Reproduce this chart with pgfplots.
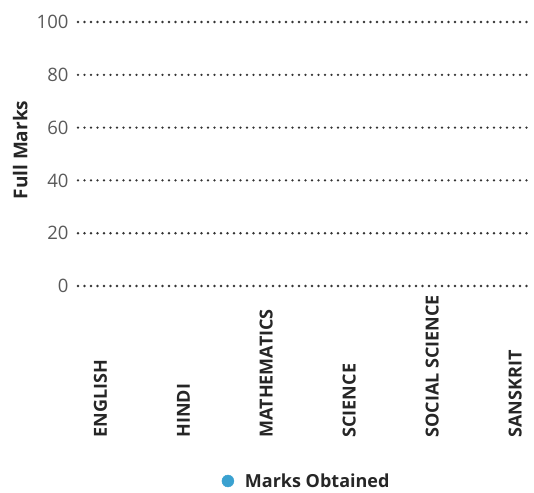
\documentclass[border=0pt]{standalone}
\usepackage{pgfplots}
\pgfplotsset{compat=1.18}
\usepackage{fontspec}
\setmainfont{Open Sans}
\definecolor{tickgray}{HTML}{595959}
\definecolor{labeldark}{HTML}{262626}
\definecolor{gridgray}{HTML}{333333}
\definecolor{markblue}{HTML}{3AA1D0}
\begin{document}
\begin{tikzpicture}
\begin{axis}[
    name=ax,
    scale only axis,
    width=452pt, height=264pt,
    xmin=-0.27, xmax=5.18,
    ymin=0, ymax=100,
    ytick={0,20,...,100},
    xtick={0,1,2,3,4,5},
    xticklabels={ENGLISH,HINDI,MATHEMATICS,SCIENCE,SOCIAL SCIENCE,SANSKRIT},
    axis line style={draw=none},
    major tick length=0pt,
    ymajorgrids,
    grid style={gridgray, line width=2.6pt, dash pattern=on 0pt off 6.5pt, line cap=round},
    /pgf/number format/assume math mode=true,
    yticklabel style={font=\fontsize{18.5}{20}\selectfont, text=tickgray, xshift=-6pt},
    xticklabel style={font=\bfseries\fontsize{18}{20}\selectfont, text=labeldark, rotate=90, anchor=west},
    xticklabel shift=155pt,
    ylabel={Full Marks},
    ylabel style={font=\bfseries\fontsize{19}{21}\selectfont, text=labeldark,
        at={(axis description cs:-0.128,0.515)}, anchor=center},
    legend style={at={(axis description cs:0.506,0)}, anchor=center, yshift=-195pt,
        draw=none, fill=none, font=\bfseries\fontsize{18}{20}\selectfont, text=labeldark,
        legend cell align=left},
]
\addlegendimage{only marks, mark=*, mark size=6pt, color=markblue}
\addlegendentry{\hspace{9pt}Marks Obtained}
\end{axis}
\path[use as bounding box] ([xshift=-78pt,yshift=-203pt]ax.south west) rectangle ([xshift=4pt,yshift=22pt]ax.north east);
\end{tikzpicture}
\end{document}
